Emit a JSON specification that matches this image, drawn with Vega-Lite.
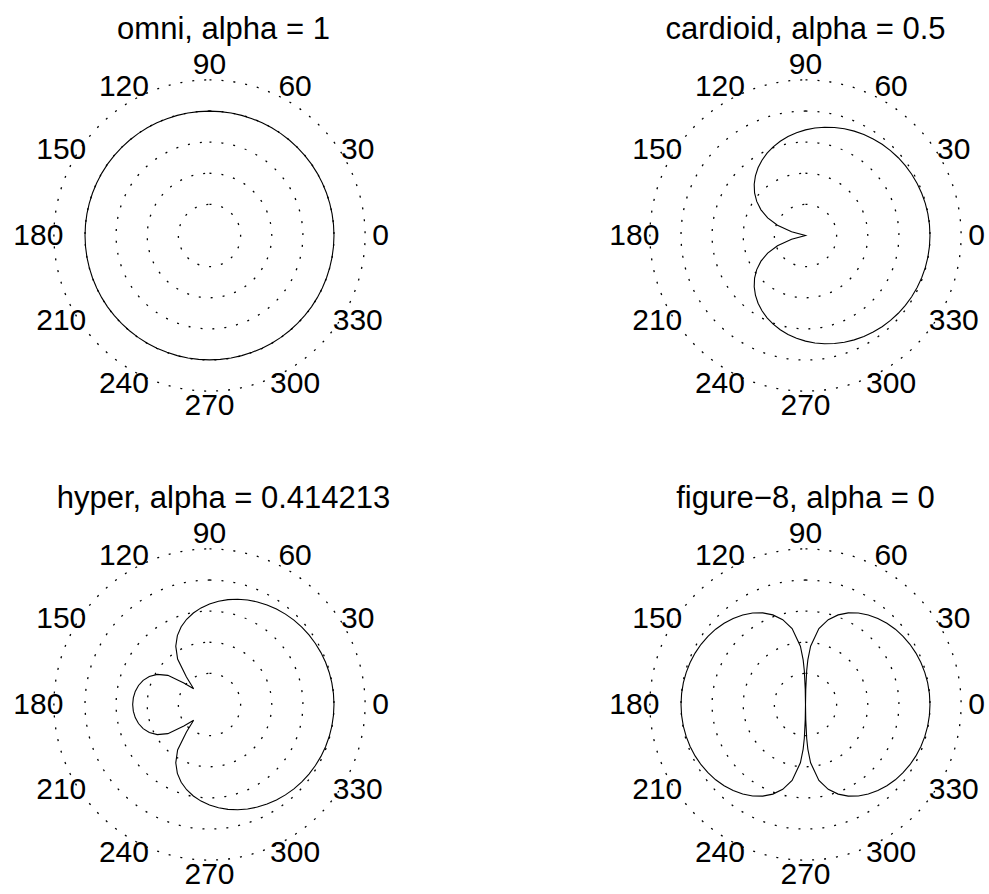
{
  "$schema": "https://vega.github.io/schema/vega-lite/v6.json",
  "background": "white",
  "autosize": {"type": "pad"},
  "padding": {"left": 13, "top": 13, "right": 0, "bottom": 0},
  "columns": 2,
  "bounds": "flush",
  "spacing": {"row": 96, "column": 235},
  "config": {
    "view": {"stroke": null},
    "title": {"font": "Liberation Sans", "fontSize": 31, "fontWeight": "normal", "color": "black", "anchor": "middle", "frame": "group", "baseline": "alphabetic", "offset": 3.5},
    "text": {"font": "Liberation Sans", "fontSize": 30, "color": "black"}
  },
  "datasets": {
    "rings": [{"r": 0.25}, {"r": 0.5}, {"r": 0.75}, {"r": 1}, {"r": 1.25}],
    "angles": [
      {"label": "0", "x": 1.375, "y": 0},
      {"label": "30", "x": 1.1908, "y": 0.6875},
      {"label": "60", "x": 0.6875, "y": 1.1908},
      {"label": "90", "x": 0, "y": 1.375},
      {"label": "120", "x": -0.6875, "y": 1.1908},
      {"label": "150", "x": -1.1908, "y": 0.6875},
      {"label": "180", "x": -1.375, "y": 0},
      {"label": "210", "x": -1.1908, "y": -0.6875},
      {"label": "240", "x": -0.6875, "y": -1.1908},
      {"label": "270", "x": 0, "y": -1.375},
      {"label": "300", "x": 0.6875, "y": -1.1908},
      {"label": "330", "x": 1.1908, "y": -0.6875}
    ],
    "omni": [
      {"t":0,"x":1,"y":0},{"t":5,"x":0.9962,"y":0.0872},{"t":10,"x":0.9848,"y":0.1736},{"t":15,"x":0.9659,"y":0.2588},{"t":20,"x":0.9397,"y":0.342},{"t":25,"x":0.9063,"y":0.4226},{"t":30,"x":0.866,"y":0.5},{"t":35,"x":0.8192,"y":0.5736},{"t":40,"x":0.766,"y":0.6428},{"t":45,"x":0.7071,"y":0.7071},{"t":50,"x":0.6428,"y":0.766},{"t":55,"x":0.5736,"y":0.8192},{"t":60,"x":0.5,"y":0.866},{"t":65,"x":0.4226,"y":0.9063},{"t":70,"x":0.342,"y":0.9397},{"t":75,"x":0.2588,"y":0.9659},{"t":80,"x":0.1736,"y":0.9848},{"t":85,"x":0.0872,"y":0.9962},{"t":90,"x":0,"y":1},
      {"t":95,"x":-0.0872,"y":0.9962},{"t":100,"x":-0.1736,"y":0.9848},{"t":105,"x":-0.2588,"y":0.9659},{"t":110,"x":-0.342,"y":0.9397},{"t":115,"x":-0.4226,"y":0.9063},{"t":120,"x":-0.5,"y":0.866},{"t":125,"x":-0.5736,"y":0.8192},{"t":130,"x":-0.6428,"y":0.766},{"t":135,"x":-0.7071,"y":0.7071},{"t":140,"x":-0.766,"y":0.6428},{"t":145,"x":-0.8192,"y":0.5736},{"t":150,"x":-0.866,"y":0.5},{"t":155,"x":-0.9063,"y":0.4226},{"t":160,"x":-0.9397,"y":0.342},{"t":165,"x":-0.9659,"y":0.2588},{"t":170,"x":-0.9848,"y":0.1736},{"t":175,"x":-0.9962,"y":0.0872},{"t":180,"x":-1,"y":0},
      {"t":185,"x":-0.9962,"y":-0.0872},{"t":190,"x":-0.9848,"y":-0.1736},{"t":195,"x":-0.9659,"y":-0.2588},{"t":200,"x":-0.9397,"y":-0.342},{"t":205,"x":-0.9063,"y":-0.4226},{"t":210,"x":-0.866,"y":-0.5},{"t":215,"x":-0.8192,"y":-0.5736},{"t":220,"x":-0.766,"y":-0.6428},{"t":225,"x":-0.7071,"y":-0.7071},{"t":230,"x":-0.6428,"y":-0.766},{"t":235,"x":-0.5736,"y":-0.8192},{"t":240,"x":-0.5,"y":-0.866},{"t":245,"x":-0.4226,"y":-0.9063},{"t":250,"x":-0.342,"y":-0.9397},{"t":255,"x":-0.2588,"y":-0.9659},{"t":260,"x":-0.1736,"y":-0.9848},{"t":265,"x":-0.0872,"y":-0.9962},{"t":270,"x":0,"y":-1},
      {"t":275,"x":0.0872,"y":-0.9962},{"t":280,"x":0.1736,"y":-0.9848},{"t":285,"x":0.2588,"y":-0.9659},{"t":290,"x":0.342,"y":-0.9397},{"t":295,"x":0.4226,"y":-0.9063},{"t":300,"x":0.5,"y":-0.866},{"t":305,"x":0.5736,"y":-0.8192},{"t":310,"x":0.6428,"y":-0.766},{"t":315,"x":0.7071,"y":-0.7071},{"t":320,"x":0.766,"y":-0.6428},{"t":325,"x":0.8192,"y":-0.5736},{"t":330,"x":0.866,"y":-0.5},{"t":335,"x":0.9063,"y":-0.4226},{"t":340,"x":0.9397,"y":-0.342},{"t":345,"x":0.9659,"y":-0.2588},{"t":350,"x":0.9848,"y":-0.1736},{"t":355,"x":0.9962,"y":-0.0872},{"t":360,"x":1,"y":0}
    ],
    "cardioid": [
      {"t":0,"x":1,"y":0},{"t":5,"x":0.9958,"y":0.0871},{"t":10,"x":0.9832,"y":0.1734},{"t":15,"x":0.9623,"y":0.2579},{"t":20,"x":0.9334,"y":0.3398},{"t":25,"x":0.8969,"y":0.4182},{"t":30,"x":0.853,"y":0.4925},{"t":35,"x":0.8023,"y":0.5618},{"t":40,"x":0.7454,"y":0.6254},{"t":45,"x":0.6828,"y":0.6828},{"t":50,"x":0.6153,"y":0.7333},{"t":55,"x":0.5437,"y":0.7765},{"t":60,"x":0.4688,"y":0.8119},{"t":65,"x":0.3914,"y":0.8393},{"t":70,"x":0.3124,"y":0.8583},{"t":75,"x":0.2328,"y":0.8688},{"t":80,"x":0.1536,"y":0.8708},{"t":85,"x":0.0756,"y":0.8643},{"t":90,"x":0,"y":0.8495},
      {"t":95,"x":-0.0723,"y":0.8265},{"t":100,"x":-0.1403,"y":0.7958},{"t":105,"x":-0.203,"y":0.7577},{"t":110,"x":-0.2595,"y":0.7128},{"t":115,"x":-0.3086,"y":0.6618},{"t":120,"x":-0.3495,"y":0.6053},{"t":125,"x":-0.3811,"y":0.5442},{"t":130,"x":-0.4023,"y":0.4795},{"t":135,"x":-0.4121,"y":0.4121},{"t":140,"x":-0.4091,"y":0.3433},{"t":145,"x":-0.3917,"y":0.2742},{"t":150,"x":-0.3577,"y":0.2065},{"t":155,"x":-0.3039,"y":0.1417},{"t":160,"x":-0.2252,"y":0.082},{"t":165,"x":-0.1118,"y":0.0299},{"t":168.5,"x":0,"y":0},
      {"t":195,"x":-0.1118,"y":-0.0299},{"t":200,"x":-0.2252,"y":-0.082},{"t":205,"x":-0.3039,"y":-0.1417},{"t":210,"x":-0.3577,"y":-0.2065},{"t":215,"x":-0.3917,"y":-0.2742},{"t":220,"x":-0.4091,"y":-0.3433},{"t":225,"x":-0.4121,"y":-0.4121},{"t":230,"x":-0.4023,"y":-0.4795},{"t":235,"x":-0.3811,"y":-0.5442},{"t":240,"x":-0.3495,"y":-0.6053},{"t":245,"x":-0.3086,"y":-0.6618},{"t":250,"x":-0.2595,"y":-0.7128},{"t":255,"x":-0.203,"y":-0.7577},{"t":260,"x":-0.1403,"y":-0.7958},{"t":265,"x":-0.0723,"y":-0.8265},{"t":270,"x":0,"y":-0.8495},
      {"t":275,"x":0.0756,"y":-0.8643},{"t":280,"x":0.1536,"y":-0.8708},{"t":285,"x":0.2328,"y":-0.8688},{"t":290,"x":0.3124,"y":-0.8583},{"t":295,"x":0.3914,"y":-0.8393},{"t":300,"x":0.4688,"y":-0.8119},{"t":305,"x":0.5437,"y":-0.7765},{"t":310,"x":0.6153,"y":-0.7333},{"t":315,"x":0.6828,"y":-0.6828},{"t":320,"x":0.7454,"y":-0.6254},{"t":325,"x":0.8023,"y":-0.5618},{"t":330,"x":0.853,"y":-0.4925},{"t":335,"x":0.8969,"y":-0.4182},{"t":340,"x":0.9334,"y":-0.3398},{"t":345,"x":0.9623,"y":-0.2579},{"t":350,"x":0.9832,"y":-0.1734},{"t":355,"x":0.9958,"y":-0.0871},{"t":360,"x":1,"y":0}
    ],
    "hyper": [
      {"t":0,"x":1,"y":0},{"t":5,"x":0.9957,"y":0.0871},{"t":10,"x":0.9829,"y":0.1733},{"t":15,"x":0.9617,"y":0.2577},{"t":20,"x":0.9324,"y":0.3394},{"t":25,"x":0.8952,"y":0.4174},{"t":30,"x":0.8507,"y":0.4911},{"t":35,"x":0.7992,"y":0.5596},{"t":40,"x":0.7415,"y":0.6222},{"t":45,"x":0.6782,"y":0.6782},{"t":50,"x":0.61,"y":0.727},{"t":55,"x":0.5378,"y":0.768},{"t":60,"x":0.4624,"y":0.8009},{"t":65,"x":0.3847,"y":0.8251},{"t":70,"x":0.3059,"y":0.8404},{"t":75,"x":0.2268,"y":0.8465},{"t":80,"x":0.1487,"y":0.8433},{"t":85,"x":0.0727,"y":0.8307},{"t":90,"x":0,"y":0.8086},
      {"t":95,"x":-0.068,"y":0.7771},{"t":100,"x":-0.1298,"y":0.7361},{"t":105,"x":-0.1837,"y":0.6855},{"t":110,"x":-0.2275,"y":0.625},{"t":115,"x":-0.2582,"y":0.5537},{"t":120,"x":-0.271,"y":0.4694},{"t":125,"x":-0.2562,"y":0.3659},{"t":130,"x":-0.1851,"y":0.2207},{"t":135,"x":-0.1273,"y":0.1273},{"t":140,"x":-0.2061,"y":0.173},{"t":145,"x":-0.3347,"y":0.2344},{"t":150,"x":-0.4196,"y":0.2422},{"t":155,"x":-0.4835,"y":0.2255},{"t":160,"x":-0.533,"y":0.194},{"t":165,"x":-0.5703,"y":0.1528},{"t":170,"x":-0.5965,"y":0.1052},{"t":175,"x":-0.612,"y":0.0536},{"t":180,"x":-0.6172,"y":0},
      {"t":185,"x":-0.612,"y":-0.0536},{"t":190,"x":-0.5965,"y":-0.1052},{"t":195,"x":-0.5703,"y":-0.1528},{"t":200,"x":-0.533,"y":-0.194},{"t":205,"x":-0.4835,"y":-0.2255},{"t":210,"x":-0.4196,"y":-0.2422},{"t":215,"x":-0.3347,"y":-0.2344},{"t":220,"x":-0.2061,"y":-0.173},{"t":225,"x":-0.1273,"y":-0.1273},{"t":230,"x":-0.1851,"y":-0.2207},{"t":235,"x":-0.2562,"y":-0.3659},{"t":240,"x":-0.271,"y":-0.4694},{"t":245,"x":-0.2582,"y":-0.5537},{"t":250,"x":-0.2275,"y":-0.625},{"t":255,"x":-0.1837,"y":-0.6855},{"t":260,"x":-0.1298,"y":-0.7361},{"t":265,"x":-0.068,"y":-0.7771},{"t":270,"x":0,"y":-0.8086},
      {"t":275,"x":0.0727,"y":-0.8307},{"t":280,"x":0.1487,"y":-0.8433},{"t":285,"x":0.2268,"y":-0.8465},{"t":290,"x":0.3059,"y":-0.8404},{"t":295,"x":0.3847,"y":-0.8251},{"t":300,"x":0.4624,"y":-0.8009},{"t":305,"x":0.5378,"y":-0.768},{"t":310,"x":0.61,"y":-0.727},{"t":315,"x":0.6782,"y":-0.6782},{"t":320,"x":0.7415,"y":-0.6222},{"t":325,"x":0.7992,"y":-0.5596},{"t":330,"x":0.8507,"y":-0.4911},{"t":335,"x":0.8952,"y":-0.4174},{"t":340,"x":0.9324,"y":-0.3394},{"t":345,"x":0.9617,"y":-0.2577},{"t":350,"x":0.9829,"y":-0.1733},{"t":355,"x":0.9957,"y":-0.0871},{"t":360,"x":1,"y":0}
    ],
    "fig8": [
      {"t":0,"x":1,"y":0},{"t":5,"x":0.9954,"y":0.0871},{"t":10,"x":0.9815,"y":0.1731},{"t":15,"x":0.9587,"y":0.2569},{"t":20,"x":0.927,"y":0.3374},{"t":25,"x":0.887,"y":0.4136},{"t":30,"x":0.839,"y":0.4844},{"t":35,"x":0.7837,"y":0.5487},{"t":40,"x":0.7217,"y":0.6056},{"t":45,"x":0.6539,"y":0.6539},{"t":50,"x":0.5811,"y":0.6925},{"t":55,"x":0.5044,"y":0.7203},{"t":60,"x":0.4247,"y":0.7357},{"t":65,"x":0.3436,"y":0.7368},{"t":70,"x":0.2623,"y":0.7208},{"t":75,"x":0.1829,"y":0.6824},{"t":80,"x":0.1076,"y":0.6104},{"t":85,"x":0.041,"y":0.4684},{"t":87,"x":0.0188,"y":0.3589},{"t":88,"x":0.0095,"y":0.2713},{"t":89,"x":0.0021,"y":0.1209},{"t":90,"x":0,"y":0},
      {"t":91,"x":-0.0021,"y":0.1209},{"t":92,"x":-0.0095,"y":0.2713},{"t":93,"x":-0.0188,"y":0.3589},{"t":95,"x":-0.041,"y":0.4684},{"t":100,"x":-0.1076,"y":0.6104},{"t":105,"x":-0.1829,"y":0.6824},{"t":110,"x":-0.2623,"y":0.7208},{"t":115,"x":-0.3436,"y":0.7368},{"t":120,"x":-0.4247,"y":0.7357},{"t":125,"x":-0.5044,"y":0.7203},{"t":130,"x":-0.5811,"y":0.6925},{"t":135,"x":-0.6539,"y":0.6539},{"t":140,"x":-0.7217,"y":0.6056},{"t":145,"x":-0.7837,"y":0.5487},{"t":150,"x":-0.839,"y":0.4844},{"t":155,"x":-0.887,"y":0.4136},{"t":160,"x":-0.927,"y":0.3374},{"t":165,"x":-0.9587,"y":0.2569},{"t":170,"x":-0.9815,"y":0.1731},{"t":175,"x":-0.9954,"y":0.0871},{"t":180,"x":-1,"y":0},
      {"t":185,"x":-0.9954,"y":-0.0871},{"t":190,"x":-0.9815,"y":-0.1731},{"t":195,"x":-0.9587,"y":-0.2569},{"t":200,"x":-0.927,"y":-0.3374},{"t":205,"x":-0.887,"y":-0.4136},{"t":210,"x":-0.839,"y":-0.4844},{"t":215,"x":-0.7837,"y":-0.5487},{"t":220,"x":-0.7217,"y":-0.6056},{"t":225,"x":-0.6539,"y":-0.6539},{"t":230,"x":-0.5811,"y":-0.6925},{"t":235,"x":-0.5044,"y":-0.7203},{"t":240,"x":-0.4247,"y":-0.7357},{"t":245,"x":-0.3436,"y":-0.7368},{"t":250,"x":-0.2623,"y":-0.7208},{"t":255,"x":-0.1829,"y":-0.6824},{"t":260,"x":-0.1076,"y":-0.6104},{"t":265,"x":-0.041,"y":-0.4684},{"t":267,"x":-0.0188,"y":-0.3589},{"t":268,"x":-0.0095,"y":-0.2713},{"t":269,"x":-0.0021,"y":-0.1209},{"t":270,"x":0,"y":0},
      {"t":271,"x":0.0021,"y":-0.1209},{"t":272,"x":0.0095,"y":-0.2713},{"t":273,"x":0.0188,"y":-0.3589},{"t":275,"x":0.041,"y":-0.4684},{"t":280,"x":0.1076,"y":-0.6104},{"t":285,"x":0.1829,"y":-0.6824},{"t":290,"x":0.2623,"y":-0.7208},{"t":295,"x":0.3436,"y":-0.7368},{"t":300,"x":0.4247,"y":-0.7357},{"t":305,"x":0.5044,"y":-0.7203},{"t":310,"x":0.5811,"y":-0.6925},{"t":315,"x":0.6539,"y":-0.6539},{"t":320,"x":0.7217,"y":-0.6056},{"t":325,"x":0.7837,"y":-0.5487},{"t":330,"x":0.839,"y":-0.4844},{"t":335,"x":0.887,"y":-0.4136},{"t":340,"x":0.927,"y":-0.3374},{"t":345,"x":0.9587,"y":-0.2569},{"t":350,"x":0.9815,"y":-0.1731},{"t":355,"x":0.9954,"y":-0.0871},{"t":360,"x":1,"y":0}
    ]
  },
  "concat": [
    {
      "width": 361, "height": 373,
      "title": {"text": "omni, alpha = 1", "dx": 14},
      "layer": [
        {"data": {"name": "rings"}, "mark": {"type": "arc", "theta": 0, "theta2": 6.3, "filled": false, "stroke": "black", "strokeWidth": 1.3, "strokeDash": [2, 10]},
         "encoding": {"radius": {"field": "r", "type": "quantitative", "stack": null, "scale": {"type": "linear", "domain": [0, 1.45], "range": [0, 180.5]}}}},
        {"data": {"name": "angles"}, "mark": {"type": "text", "align": "center", "baseline": "middle"},
         "encoding": {"x": {"field": "x", "type": "quantitative", "scale": {"domain": [-1.45, 1.45], "nice": false}, "axis": null},
                      "y": {"field": "y", "type": "quantitative", "scale": {"domain": [-1.5, 1.5], "nice": false}, "axis": null},
                      "text": {"field": "label", "type": "nominal"}}},
        {"data": {"name": "omni"}, "mark": {"type": "line", "color": "black", "strokeWidth": 1.1},
         "encoding": {"x": {"field": "x", "type": "quantitative"}, "y": {"field": "y", "type": "quantitative"}, "order": {"field": "t", "type": "quantitative"}}}
      ]
    },
    {
      "width": 361, "height": 373,
      "title": {"text": "cardioid, alpha = 0.5"},
      "layer": [
        {"data": {"name": "rings"}, "mark": {"type": "arc", "theta": 0, "theta2": 6.3, "filled": false, "stroke": "black", "strokeWidth": 1.3, "strokeDash": [2, 10]},
         "encoding": {"radius": {"field": "r", "type": "quantitative", "stack": null, "scale": {"type": "linear", "domain": [0, 1.45], "range": [0, 180.5]}}}},
        {"data": {"name": "angles"}, "mark": {"type": "text", "align": "center", "baseline": "middle"},
         "encoding": {"x": {"field": "x", "type": "quantitative", "scale": {"domain": [-1.45, 1.45], "nice": false}, "axis": null},
                      "y": {"field": "y", "type": "quantitative", "scale": {"domain": [-1.5, 1.5], "nice": false}, "axis": null},
                      "text": {"field": "label", "type": "nominal"}}},
        {"data": {"name": "cardioid"}, "mark": {"type": "line", "color": "black", "strokeWidth": 1.1},
         "encoding": {"x": {"field": "x", "type": "quantitative"}, "y": {"field": "y", "type": "quantitative"}, "order": {"field": "t", "type": "quantitative"}}}
      ]
    },
    {
      "width": 361, "height": 373,
      "title": {"text": "hyper, alpha = 0.414213", "dx": 14},
      "layer": [
        {"data": {"name": "rings"}, "mark": {"type": "arc", "theta": 0, "theta2": 6.3, "filled": false, "stroke": "black", "strokeWidth": 1.3, "strokeDash": [2, 10]},
         "encoding": {"radius": {"field": "r", "type": "quantitative", "stack": null, "scale": {"type": "linear", "domain": [0, 1.45], "range": [0, 180.5]}}}},
        {"data": {"name": "angles"}, "mark": {"type": "text", "align": "center", "baseline": "middle"},
         "encoding": {"x": {"field": "x", "type": "quantitative", "scale": {"domain": [-1.45, 1.45], "nice": false}, "axis": null},
                      "y": {"field": "y", "type": "quantitative", "scale": {"domain": [-1.5, 1.5], "nice": false}, "axis": null},
                      "text": {"field": "label", "type": "nominal"}}},
        {"data": {"name": "hyper"}, "mark": {"type": "line", "color": "black", "strokeWidth": 1.1},
         "encoding": {"x": {"field": "x", "type": "quantitative"}, "y": {"field": "y", "type": "quantitative"}, "order": {"field": "t", "type": "quantitative"}}}
      ]
    },
    {
      "width": 361, "height": 373,
      "title": {"text": "figure−8, alpha = 0"},
      "layer": [
        {"data": {"name": "rings"}, "mark": {"type": "arc", "theta": 0, "theta2": 6.3, "filled": false, "stroke": "black", "strokeWidth": 1.3, "strokeDash": [2, 10]},
         "encoding": {"radius": {"field": "r", "type": "quantitative", "stack": null, "scale": {"type": "linear", "domain": [0, 1.45], "range": [0, 180.5]}}}},
        {"data": {"name": "angles"}, "mark": {"type": "text", "align": "center", "baseline": "middle"},
         "encoding": {"x": {"field": "x", "type": "quantitative", "scale": {"domain": [-1.45, 1.45], "nice": false}, "axis": null},
                      "y": {"field": "y", "type": "quantitative", "scale": {"domain": [-1.5, 1.5], "nice": false}, "axis": null},
                      "text": {"field": "label", "type": "nominal"}}},
        {"data": {"name": "fig8"}, "mark": {"type": "line", "color": "black", "strokeWidth": 1.1},
         "encoding": {"x": {"field": "x", "type": "quantitative"}, "y": {"field": "y", "type": "quantitative"}, "order": {"field": "t", "type": "quantitative"}}}
      ]
    }
  ]
}
